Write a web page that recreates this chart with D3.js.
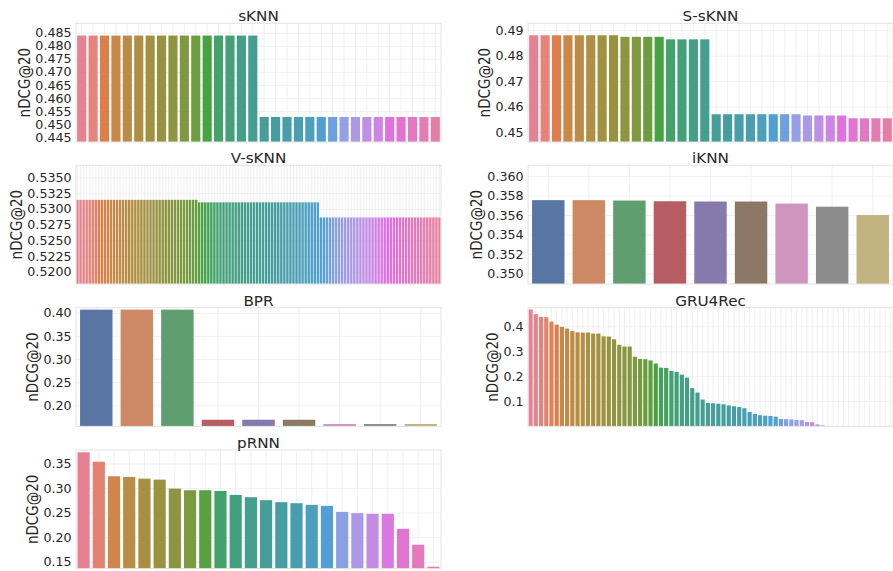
<!DOCTYPE html>
<html><head><meta charset="utf-8">
<script src="https://cdn.jsdelivr.net/npm/d3@7"></script>
<style>body{margin:0;background:#fff} svg{display:block}</style>
</head><body><svg id="c" width="893" height="571"></svg>
<script>
// ---------------- DATA ----------------
const titles = ["sKNN", "S-sKNN", "V-sKNN", "iKNN", "BPR", "GRU4Rec", "pRNN"];

const sknnValues = [0.4841,0.4841,0.4841,0.4841,0.4841,0.4841,0.4841,0.4841,0.4841,0.4841,0.4841,0.4841,0.4841,0.4841,0.4841,0.4841,
  0.4529,0.4529,0.4529,0.4529,0.4529,0.4529,0.4529,0.4529,0.4529,0.4529,0.4529,0.4529,0.4529,0.4529,0.4529,0.4529];
const ssknnValues = [0.4882,0.4882,0.4882,0.4882,0.4882,0.4882,0.4882,0.4882,0.4876,0.4876,0.4876,0.4876,0.4866,0.4866,0.4866,0.4866,
  0.4572,0.4572,0.4572,0.4572,0.4572,0.4572,0.4572,0.4572,0.4567,0.4567,0.4567,0.4567,0.4556,0.4556,0.4556,0.4556];
const vsknnValues = [
  0.5315,0.5315,0.5315,0.5315,0.5315,0.5315,0.5315,0.5315,0.5315,0.5315,0.5315,0.5315,0.5315,0.5315,0.5315,0.5315,0.5315,0.5315,0.5315,0.5315,
  0.5315,0.5315,0.5315,0.5315,0.5315,0.5315,0.5315,0.5315,0.5315,0.5315,0.5315,0.5315,0.5315,0.5315,0.5315,0.5315,0.5315,0.5315,0.5315,0.5315,
  0.5311,0.5311,0.5311,0.5311,0.5311,0.5311,0.5311,0.5311,0.5311,0.5311,0.5311,0.5311,0.5311,0.5311,0.5311,0.5311,0.5311,0.5311,0.5311,0.5311,
  0.5311,0.5311,0.5311,0.5311,0.5311,0.5311,0.5311,0.5311,0.5311,0.5311,0.5311,0.5311,0.5311,0.5311,0.5311,0.5311,0.5311,0.5311,0.5311,0.5311,
  0.5287,0.5287,0.5287,0.5287,0.5287,0.5287,0.5287,0.5287,0.5287,0.5287,0.5287,0.5287,0.5287,0.5287,0.5287,0.5287,0.5287,0.5287,0.5287,0.5287,
  0.5287,0.5287,0.5287,0.5287,0.5287,0.5287,0.5287,0.5287,0.5287,0.5287,0.5287,0.5287,0.5287,0.5287,0.5287,0.5287,0.5287,0.5287,0.5287,0.5287];
const iknnValues = [0.35757,0.35757,0.35753,0.35746,0.35743,0.35743,0.35722,0.3569,0.35604];
const bprValues = [0.4078,0.4078,0.4078,0.1698,0.1698,0.1698,0.1606,0.1606,0.1606];
const gru4recValues = [0.470,0.451,0.440,0.439,0.421,0.409,0.400,0.393,0.383,0.378,
  0.377,0.377,0.373,0.373,0.362,0.361,0.350,0.328,0.321,0.321,
  0.280,0.271,0.270,0.265,0.2525,0.236,0.235,0.223,0.219,0.208,
  0.196,0.154,0.136,0.108,0.094,0.093,0.091,0.089,0.084,0.081,
  0.078,0.073,0.058,0.050,0.045,0.043,0.042,0.039,0.030,0.029,
  0.028,0.026,0.025,0.018,0.017,0.008,0.004,0,0,0,
  0,0,0,0,0,0,0,0,0,0];
const prnnValues = [0.3738,0.3547,0.3250,0.3236,0.3201,0.3181,0.2998,0.2965,0.2965,0.2951,
  0.2870,0.2823,0.2762,0.2722,0.2701,0.2667,0.2646,0.2524,0.2498,0.2484,
  0.2484,0.2179,0.1854,0.1407];

const sknnTicks = [0.445,0.450,0.455,0.460,0.465,0.470,0.475,0.480,0.485];
const ssknnTicks = [0.45,0.46,0.47,0.48,0.49];
const vsknnTicks = [0.5200,0.5225,0.5250,0.5275,0.5300,0.5325,0.5350];
const iknnTicks = [0.350,0.352,0.354,0.356,0.358,0.360];
const bprTicks = [0.20,0.25,0.30,0.35,0.40];
const gru4recTicks = [0.1,0.2,0.3,0.4];
const prnnTicks = [0.15,0.20,0.25,0.30,0.35];

const sknnLim = [0.4433, 0.4888];
const ssknnLim = [0.4463, 0.4929];
const vsknnLim = [0.51813, 0.53698];
const iknnLim = [0.34896, 0.36115];
const bprLim = [0.1554, 0.412];
const gru4recLim = [0, 0.477];
const prnnLim = [0.1366, 0.3785];

const yLabel = "nDCG@20";

// ---------------- COLORS (seaborn husl / deep, desaturated 0.75) ----------------
const M = [[3.2406,-1.5372,-0.4986],[-0.9689,1.8758,0.0415],[0.0557,-0.2040,1.0570]];
function maxChroma(L, H) {
  const hrad = H * Math.PI / 180, sinH = Math.sin(hrad), cosH = Math.cos(hrad);
  const sub1 = Math.pow(L + 16, 3) / 1560896.0;
  const sub2 = sub1 > 0.008856 ? sub1 : L / 903.3;
  let result = Infinity;
  for (const [m1, m2, m3] of M) {
    const top = (0.99915 * m1 + 1.05122 * m2 + 1.14460 * m3) * sub2;
    const rb = 0.86330 * m3 - 0.17266 * m2;
    const lb = 0.12949 * m3 - 0.38848 * m1;
    const bottom = (rb * sinH + lb * cosH) * sub2;
    for (const t of [0, 1]) {
      const C = L * (top - 1.05122 * t) / (bottom + 0.17266 * sinH * t);
      if (C > 0 && C < result) result = C;
    }
  }
  return result;
}
function huslToRgb(H, S, L) {
  const C = maxChroma(L, H) / 100 * S;
  const hr = H * Math.PI / 180;
  const U = Math.cos(hr) * C, V = Math.sin(hr) * C;
  const t = (L + 16) / 116;
  const varY = Math.pow(t, 3) > 0.008856 ? Math.pow(t, 3) : (116 * t - 16) / 903.3;
  const varU = U / (13 * L) + 0.19784, varV = V / (13 * L) + 0.46834;
  const Y = varY;
  const X = -(9 * Y * varU) / ((varU - 4) * varV - varU * varV);
  const Z = (9 * Y - 15 * varV * Y - varV * X) / (3 * varV);
  return M.map(r => {
    const c = r[0] * X + r[1] * Y + r[2] * Z;
    const v = c <= 0.0031308 ? 12.92 * c : 1.055 * Math.pow(c, 1 / 2.4) - 0.055;
    return Math.max(0, Math.min(1, v)) * 255;
  });
}
function desat(c) { const h = d3.hsl(c); h.s *= 0.75; return h.formatHex(); }
function huslPalette(n) {
  return d3.range(n).map(i => {
    const h = ((i / n) + 0.01) % 1 * 359;
    const [r, g, b] = huslToRgb(h, 0.9 * 99, 0.65 * 99);
    return desat(d3.rgb(r, g, b));
  });
}
const deep = ["#4C72B0","#DD8452","#55A868","#C44E52","#8172B3","#937860","#DA8BC3","#8C8C8C","#CCB974","#64B5CD"].map(desat);

// ---------------- LAYOUT ----------------
const colX = [76, 528], W = 365, H = 118.7;
const rowY = [23.3, 165.3, 307.7, 450];
const SX = 1.11; // horizontal text stretch of the source image

const panels = [
  {title: titles[0], values: sknnValues,   ticks: sknnTicks,   lim: sknnLim,   fmt: ".3f", col: 0, row: 0, pal: "husl"},
  {title: titles[1], values: ssknnValues,  ticks: ssknnTicks,  lim: ssknnLim,  fmt: ".2f", col: 1, row: 0, pal: "husl"},
  {title: titles[2], values: vsknnValues,  ticks: vsknnTicks,  lim: vsknnLim,  fmt: ".4f", col: 0, row: 1, pal: "husl"},
  {title: titles[3], values: iknnValues,   ticks: iknnTicks,   lim: iknnLim,   fmt: ".3f", col: 1, row: 1, pal: "deep"},
  {title: titles[4], values: bprValues,    ticks: bprTicks,    lim: bprLim,    fmt: ".2f", col: 0, row: 2, pal: "deep"},
  {title: titles[5], values: gru4recValues,ticks: gru4recTicks,lim: gru4recLim,fmt: ".1f", col: 1, row: 2, pal: "husl"},
  {title: titles[6], values: prnnValues,   ticks: prnnTicks,   lim: prnnLim,   fmt: ".2f", col: 0, row: 3, pal: "husl"},
];

const svg = d3.select("#c");
svg.append("rect").attr("width", 893).attr("height", 571).attr("fill", "#fff");
const textColor = "#262626";

panels.forEach((p, pi) => {
  const g = svg.append("g").attr("transform", `translate(${colX[p.col]},${rowY[p.row]})`);
  const idx = d3.range(p.values.length);
  const x = d3.scaleBand().domain(idx).range([0, W]).paddingInner(0.2).paddingOuter(0.1);
  const y = d3.scaleLinear().domain(p.lim).range([H, 0]);
  const colors = p.pal === "deep" ? deep : huslPalette(p.values.length);

  const cid = "clip" + pi;
  g.append("clipPath").attr("id", cid).append("rect").attr("width", W).attr("height", H);

  // grid
  g.append("g").selectAll("line.v").data(idx).join("line")
    .attr("x1", d => x(d) + x.bandwidth() / 2).attr("x2", d => x(d) + x.bandwidth() / 2)
    .attr("y1", 0).attr("y2", H).attr("stroke", "#ececec").attr("stroke-width", 0.8);
  g.append("g").selectAll("line.h").data(p.ticks).join("line")
    .attr("x1", 0).attr("x2", W).attr("y1", d => y(d)).attr("y2", d => y(d))
    .attr("stroke", "#ececec").attr("stroke-width", 0.8);

  // bars
  g.append("g").attr("clip-path", `url(#${cid})`).selectAll("rect").data(p.values).join("rect")
    .attr("x", (d, i) => x(i)).attr("width", x.bandwidth())
    .attr("y", d => Math.min(y(d), H)).attr("height", d => Math.max(0, H - y(d)))
    .attr("fill", (d, i) => colors[i % colors.length]);

  // frame
  g.append("rect").attr("width", W).attr("height", H).attr("fill", "none")
    .attr("stroke", "#e3e3e3").attr("stroke-width", 1);

  // y axis
  const ax = g.append("g").call(d3.axisLeft(y).tickValues(p.ticks).tickFormat(d3.format(p.fmt)).tickSize(0).tickPadding(4));
  ax.select(".domain").remove();
  ax.selectAll("text").attr("font-family", "DejaVu Sans").attr("font-size", 11.4)
    .attr("fill", textColor).attr("transform", `scale(${SX},1)`);

  const bb = ax.node().getBBox();
  // y label
  g.append("g").attr("transform", `translate(${bb.x - 10.5},${H / 2}) scale(${SX},1) rotate(-90)`)
    .append("text").attr("text-anchor", "middle").attr("dy", "0.36em")
    .attr("font-family", "DejaVu Sans").attr("font-size", 13.5).attr("fill", textColor)
    .text(yLabel);

  // title
  g.append("g").attr("transform", `translate(${W / 2},-2) scale(${SX},1)`)
    .append("text").attr("text-anchor", "middle")
    .attr("font-family", "DejaVu Sans").attr("font-size", 13.7).attr("fill", textColor)
    .text(p.title);
});
</script>
</body></html>
